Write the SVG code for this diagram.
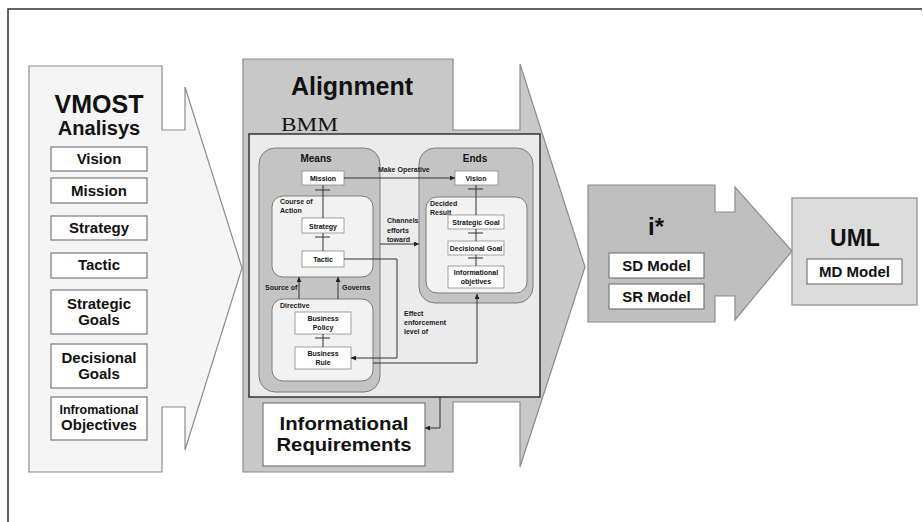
<svg xmlns="http://www.w3.org/2000/svg" width="923" height="522" viewBox="0 0 923 522">
  <style>
    .frame { fill: none; stroke: #333; stroke-width: 1.5; }
    .stage { stroke: #8c8c8c; stroke-width: 1.2; }
    .box { fill: #fff; stroke: #7a7a7a; stroke-width: 1.2; }
    .sbox { fill: #fff; stroke: #8a8a8a; stroke-width: 0.8; }
    .grp { fill: #c4c4c4; stroke: #7c7c7c; stroke-width: 1; }
    .sub { fill: #f2f2f2; stroke: #7c7c7c; stroke-width: 1; }
    .link { fill: none; stroke: #333; stroke-width: 1; }
    .arr { fill: none; stroke: #333; stroke-width: 1; marker-end: url(#head); }
    .t { font-family: "Liberation Sans", Arial, sans-serif; fill: #111; text-anchor: middle; }
    .b { font-weight: bold; }
    .s { font-family: "Liberation Sans", Arial, sans-serif; fill: #1a1a1a; font-size: 7px; font-weight: bold; }
  </style>
  <defs>
    <marker id="head" viewBox="0 0 10 10" refX="10" refY="5" markerWidth="5" markerHeight="5" orient="auto" markerUnits="userSpaceOnUse">
      <path d="M0,0 L10,5 L0,10 Z" fill="#222"/>
    </marker>
  </defs>

  <!-- page frame -->
  <path class="frame" d="M8,522 V9 H922"/>

  <!-- VMOST stage -->
  <g id="vmost">
    <path class="stage" fill="#f5f5f5" d="M29,66 H162 V130 H185 V87 L242,268 L185,450 V407 H162 V472 H29 Z"/>
    <text class="t b" x="99" y="113" font-size="25">VMOST</text>
    <text class="t b" x="99" y="135" font-size="20">Analisys</text>
    <g id="v-vision"><rect class="box" x="51" y="147" width="96" height="24"/><text class="t b" x="99" y="164" font-size="15">Vision</text></g>
    <g id="v-mission"><rect class="box" x="51" y="178" width="96" height="25"/><text class="t b" x="99" y="196" font-size="15">Mission</text></g>
    <g id="v-strategy"><rect class="box" x="51" y="216" width="96" height="24"/><text class="t b" x="99" y="233" font-size="15">Strategy</text></g>
    <g id="v-tactic"><rect class="box" x="51" y="253" width="96" height="25"/><text class="t b" x="99" y="270" font-size="15">Tactic</text></g>
    <g id="v-sgoals"><rect class="box" x="51" y="290" width="96" height="44"/><text class="t b" x="99" y="309" font-size="15">Strategic</text><text class="t b" x="99" y="325" font-size="15">Goals</text></g>
    <g id="v-dgoals"><rect class="box" x="51" y="344" width="96" height="44"/><text class="t b" x="99" y="363" font-size="15">Decisional</text><text class="t b" x="99" y="379" font-size="15">Goals</text></g>
    <g id="v-iobj"><rect class="box" x="51" y="397" width="96" height="43"/><text class="t b" x="99" y="414" font-size="12.5">Infromational</text><text class="t b" x="99" y="430" font-size="15">Objectives</text></g>
  </g>

  <!-- Alignment stage -->
  <g id="alignment">
    <path class="stage" fill="#c8c8c8" d="M243,59 H453 V130 H520 V64 L585,267 L520,467 V402 H453 V472 H243 Z"/>
    <text class="t b" x="352" y="95" font-size="25">Alignment</text>
    <text x="281" y="131" font-family="'Liberation Serif', 'Times New Roman', serif" font-size="18" textLength="57" lengthAdjust="spacingAndGlyphs" fill="#111">BMM</text>
  </g>

  <!-- BMM model -->
  <g id="bmm">
    <rect x="249" y="134" width="291" height="263" fill="#ebebeb" stroke="#333" stroke-width="1.5"/>
  </g>

  <g id="means">
    <rect class="grp" x="259" y="148" width="121" height="244" rx="16"/>
    <text class="t b" x="316" y="162" font-size="10">Means</text>
  </g>
  <g id="course-of-action">
    <rect class="sub" x="272" y="196" width="101" height="81" rx="11"/>
    <text class="s" x="280" y="204">Course of</text>
    <text class="s" x="280" y="213">Action</text>
  </g>
  <g id="directive">
    <rect class="sub" x="272" y="299" width="101" height="82" rx="11"/>
    <text class="s" x="280" y="308">Directive</text>
  </g>
  <g id="ends">
    <rect class="grp" x="419" y="148" width="114" height="155" rx="16"/>
    <text class="t b" x="475" y="162" font-size="10">Ends</text>
  </g>
  <g id="decided-result">
    <rect class="sub" x="426" y="197" width="101" height="96" rx="11"/>
    <text class="s" x="430" y="206">Decided</text>
    <text class="s" x="430" y="215">Result</text>
  </g>

  <g id="mission"><rect class="sbox" x="302" y="171" width="42" height="14"/><text class="t b" x="323" y="181" font-size="7">Mission</text></g>
  <g id="strategy"><rect class="sbox" x="302" y="218" width="42" height="15"/><text class="t b" x="323" y="228.5" font-size="7">Strategy</text></g>
  <g id="tactic"><rect class="sbox" x="302" y="251" width="42" height="16"/><text class="t b" x="323" y="262" font-size="7">Tactic</text></g>
  <g id="business-policy"><rect class="sbox" x="295" y="312" width="56" height="22"/><text class="t b" x="323" y="321" font-size="7">Business</text><text class="t b" x="323" y="330" font-size="7">Policy</text></g>
  <g id="business-rule"><rect class="sbox" x="295" y="347" width="56" height="22"/><text class="t b" x="323" y="356" font-size="7">Business</text><text class="t b" x="323" y="365" font-size="7">Rule</text></g>
  <g id="vision"><rect class="sbox" x="455" y="171" width="43" height="14"/><text class="t b" x="476" y="181" font-size="7">Vision</text></g>
  <g id="strategic-goal"><rect class="sbox" x="448" y="215" width="56" height="14"/><text class="t b" x="476" y="225" font-size="7">Strategic Goal</text></g>
  <g id="decisional-goal"><rect class="sbox" x="448" y="241" width="56" height="14"/><text class="t b" x="476" y="251" font-size="7">Decisional Goal</text></g>
  <g id="informational-objetives"><rect class="sbox" x="448" y="266" width="56" height="22"/><text class="t b" x="476" y="275" font-size="7">Informational</text><text class="t b" x="476" y="284" font-size="7">objetives</text></g>

  <!-- Informational Requirements -->
  <g id="informational-requirements">
    <rect class="box" x="263" y="403" width="162" height="63"/>
    <text class="t b" x="344" y="430" font-size="18" textLength="129" lengthAdjust="spacingAndGlyphs">Informational</text>
    <text class="t b" x="344" y="451" font-size="18" textLength="135" lengthAdjust="spacingAndGlyphs">Requirements</text>
  </g>

  <!-- i* stage -->
  <g id="istar">
    <path class="stage" fill="#bfbfbf" d="M588,185 H715 V212 H735 V187 L792,251 L735,320 V296 H715 V322 H588 Z"/>
    <text class="t b" x="656" y="235" font-size="24">i*</text>
    <g id="sd-model"><rect class="box" x="609" y="253" width="95" height="25"/><text class="t b" x="656.5" y="271" font-size="15">SD Model</text></g>
    <g id="sr-model"><rect class="box" x="609" y="284" width="95" height="25"/><text class="t b" x="656.5" y="302" font-size="15">SR Model</text></g>
  </g>

  <!-- UML stage -->
  <g id="uml">
    <rect class="stage" fill="#dcdcdc" x="792" y="198" width="125" height="107"/>
    <text class="t b" x="855" y="246" font-size="23">UML</text>
    <g id="md-model"><rect class="box" x="807" y="259" width="95" height="25"/><text class="t b" x="854.5" y="277" font-size="15">MD Model</text></g>
  </g>

  <!-- connectors -->
  <g id="connectors">
    <!-- composition chains with cross ticks -->
    <path class="link" d="M323,185 V218 M315,190 H330 M323,233 V251 M315,237 H330"/>
    <path class="link" d="M323,334 V347 M315,338 H330"/>
    <path class="link" d="M476,185 V215 M468,189 H483 M476,229 V241 M468,233 H483 M476,255 V266 M468,258 H483"/>
    <!-- labelled relations -->
    <path class="arr" d="M344,178 H455"/>
    <text class="s" x="378" y="172">Make Operative</text>
    <path class="arr" d="M380,244 H419"/>
    <text class="s" x="387" y="223">Channels</text>
    <text class="s" x="387" y="233">efforts</text>
    <text class="s" x="387" y="242">toward</text>
    <path class="arr" d="M299,299 V277"/>
    <text class="s" x="265" y="290">Source of</text>
    <path class="arr" d="M338,299 V277"/>
    <text class="s" x="342" y="290">Governs</text>
    <path class="arr" d="M344,259 H397 V358 H351"/>
    <path class="arr" d="M373,363 H477 V294"/>
    <text class="s" x="404" y="316">Effect</text>
    <text class="s" x="404" y="325">enforcement</text>
    <text class="s" x="404" y="334">level of</text>
    <path class="arr" d="M440,397 V428 H425"/>
  </g>
</svg>
